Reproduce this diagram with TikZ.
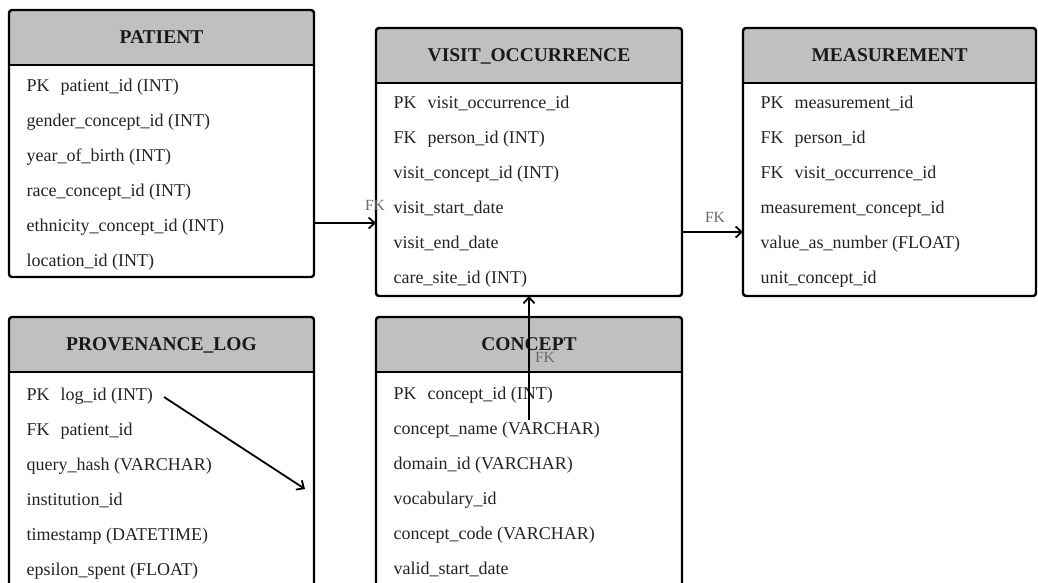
\documentclass[tikz,border=0pt]{standalone}
\usepackage{fontspec}
\setmainfont{Liberation Serif}
\usetikzlibrary{arrows.meta,calc}
\definecolor{hdrgray}{RGB}{192,192,192}
\definecolor{fkgray}{RGB}{105,105,105}
\definecolor{rowink}{RGB}{35,35,35}
\newcommand{\keyPK}{PK\hspace{0.6em}}
\newcommand{\keyFK}{FK\hspace{0.6em}}
\tikzset{
  tblbox/.style={rectangle, inner sep=0pt, outer sep=0pt, draw=none},
  border/.style={line width=2.4pt, black},
  hdrfill/.style={fill=hdrgray},
  titletext/.style={font=\fontsize{19.5}{22}\selectfont\bfseries, anchor=base, inner sep=0pt, text=black!90},
  rowtext/.style={font=\fontsize{18}{21}\selectfont, anchor=base west, inner sep=0pt, text=rowink},
  fkarrow/.style={line width=1.8pt, -{Straight Barb[length=6pt,width=11pt,line width=1.8pt]}},
  fklabel/.style={font=\fontsize{15.5}{18}\selectfont, text=fkgray, inner sep=0pt}
}
% #1 name, #2 x, #3 y, #4 width, #5 height, #6 title, #7 rows, #8 first baseline offset
\newcommand{\ertable}[8]{%
  \node[tblbox, minimum width=#4pt, minimum height=#5pt, anchor=north west] (#1) at (#2,#3) {};
  \begin{scope}
    \clip[rounded corners=3pt] (#1.north west) rectangle (#1.south east);
    \fill[hdrfill] (#1.north west) rectangle ($(#1.north east)+(0,55)$);
  \end{scope}
  \draw[border] ($(#1.north west)+(0,55)$) -- ($(#1.north east)+(0,55)$);
  \draw[border, rounded corners=3pt] (#1.north west) rectangle (#1.south east);
  \node[titletext] (#1-title) at ($(#1.north)+(0,33.5)$) {#6};
  \foreach \rowtxt [count=\rowidx] in {#7} {
    \pgfmathsetmacro\rowy{#8+35*(\rowidx-1)}
    \node[rowtext] (#1-r\rowidx) at ($(#1.north west)+(17.5,\rowy)$) {\rowtxt};
  }
}
\begin{document}
\begin{tikzpicture}[x=1pt, y=-1pt]
\useasboundingbox (0,0) rectangle (1038,582);
\clip (0,0) rectangle (1038,582);

\ertable{patient}{9}{10}{305}{267}{PATIENT}{\keyPK patient\_id (INT), gender\_concept\_id (INT), year\_of\_birth (INT), race\_concept\_id (INT), ethnicity\_concept\_id (INT), location\_id (INT)}{81.5}

\ertable{visit}{376}{28}{306}{268}{VISIT\_OCCURRENCE}{\keyPK visit\_occurrence\_id, \keyFK person\_id (INT), visit\_concept\_id (INT), visit\_start\_date, visit\_end\_date, care\_site\_id (INT)}{80.5}

\ertable{meas}{743}{28}{293}{268}{MEASUREMENT}{\keyPK measurement\_id, \keyFK person\_id, \keyFK visit\_occurrence\_id, measurement\_concept\_id, value\_as\_number (FLOAT), unit\_concept\_id}{80.5}

\ertable{prov}{9}{317}{305}{300}{PROVENANCE\_LOG}{\keyPK log\_id (INT), \keyFK patient\_id, query\_hash (VARCHAR), institution\_id, timestamp (DATETIME), epsilon\_spent (FLOAT)}{83.5}

\ertable{concept}{376}{317}{306}{300}{CONCEPT}{\keyPK concept\_id (INT), concept\_name (VARCHAR), domain\_id (VARCHAR), vocabulary\_id, concept\_code (VARCHAR), valid\_start\_date}{82}

% connectors
\coordinate (a1s) at ($(patient.north east)+(0,213)$);
\coordinate (a1e) at ($(visit.north west)+(0,195)$);
\draw[fkarrow] (a1s) -- (a1e);
\node[fklabel] (fk1) at ($(visit.north west)+(-1,177)$) {FK};

\coordinate (a2s) at ($(visit.north east)+(0,204)$);
\coordinate (a2e) at ($(meas.north west)+(0,204)$);
\draw[fkarrow] (a2s) -- (a2e);
\node[fklabel] (fk2) at ($(visit.north east)+(33,189)$) {FK};

\coordinate (a3s) at ($(concept.north)+(0,103)$);
\draw[fkarrow] (a3s) -- (visit.south);
\node[fklabel] (fk3) at ($(concept.north)+(16,40)$) {FK};

\coordinate (a4s) at ($(prov.north west)+(155,80)$);
\coordinate (a4e) at ($(prov.north west)+(296,172)$);
\draw[fkarrow] (a4s) -- (a4e);
\end{tikzpicture}
\end{document}
